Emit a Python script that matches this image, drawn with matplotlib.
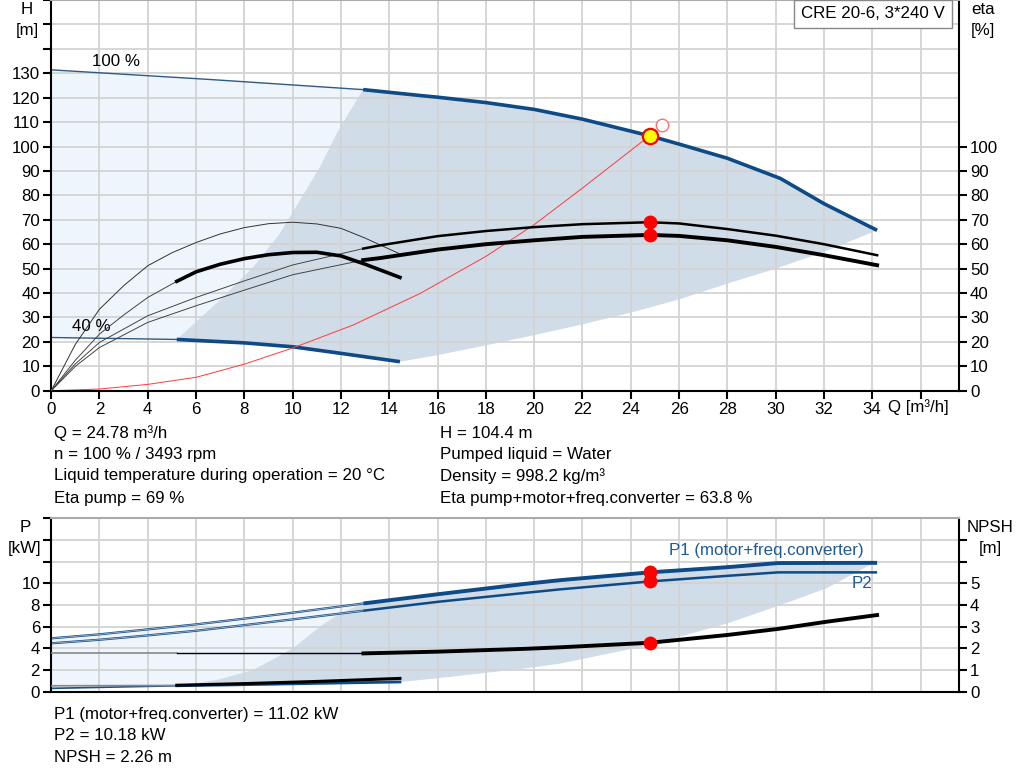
import numpy as np
import matplotlib
matplotlib.use("Agg")
import matplotlib.pyplot as plt
import matplotlib.transforms as mtransforms

plt.rcParams['font.family'] = ['Liberation Sans', 'DejaVu Sans']
FS = 12.2
plt.rcParams['font.size'] = FS

# ---- head curves (Q in m3/h, H in m)
q100_thin = [0, 6.5, 12.92]
h100_thin = [131.4, 127.5, 123.3]
q100 = [12.92, 15.27, 16, 17, 18, 20, 22, 24.78, 26, 28, 30.2, 32, 34.2]
h100 = [123.3, 120.9, 120.2, 119.1, 118.0, 115.2, 111.2, 104.4, 101.0, 95.2, 86.9, 76.6, 65.7]
q40_thin = [0, 5.2]
h40_thin = [21.8, 21.0]
q40 = [5.2, 8, 10, 12, 14.44]
h40 = [21.0, 19.6, 18.0, 15.3, 11.9]
# operating area limits
qmin = [14.44, 16, 18, 20, 22, 24, 26, 28, 30, 32, 34.2]
hmin = [11.9, 14.6, 18.6, 22.8, 27.2, 32.0, 37.4, 43.9, 50, 56.9, 65.7]
qleft = [5.2, 6.99, 8.37, 9.47, 10.3, 11.13, 11.82, 12.65, 12.92]
hleft = [21.0, 37.1, 50.7, 64.4, 78.0, 91.6, 105.3, 119.0, 123.3]
# system curve
qsys = [0, 2, 4, 6, 8, 10, 12.5, 15.27, 18, 20, 22, 24.78]
hsys = [0, 0.7, 2.6, 5.5, 10.9, 17.5, 26.9, 39.8, 55, 68, 83, 104.4]

# ---- efficiency curves (%)
qeta_thin = [0, 1, 2, 4, 6, 8, 10, 12.92]
etap100_thin = [0, 11, 19.8, 30.7, 38.2, 45, 51.5, 58.2]
etat100_thin = [0, 10, 17.7, 28, 34.8, 41.2, 47.5, 53.5]
qeta = [12.92, 13.6, 16, 18, 20, 22, 24.78, 26, 28, 30, 32, 34.2]
etap100 = [58.2, 59.5, 63.3, 65.4, 67, 68.2, 69, 68.5, 66.2, 63.5, 60.0, 55.5]
etat100 = [53.5, 54.3, 57.8, 60, 61.6, 63, 63.8, 63.4, 61.6, 58.9, 55.5, 51.4]
qetap40 = [0, 1, 2, 3, 4, 5, 6, 7, 8, 9, 10, 11, 12, 13, 14.4]
etap40 = [0, 19, 33.4, 43, 51.2, 56.5, 60.7, 64.2, 66.8, 68.4, 69, 68.3, 66.5, 62.5, 56.2]
qetat40_thin = [0, 1, 2, 3, 4, 5.2]
etat40_thin = [0, 12.5, 23.2, 31, 38.2, 44.8]
qetat40 = [5.2, 6, 7, 8, 9, 10, 11, 12, 13, 14.44]
etat40 = [44.8, 48.7, 51.8, 54.1, 55.7, 56.6, 56.7, 55.2, 51.8, 46.4]

# duty point
q_duty = 24.78
h_duty = 104.4
eta_pump = 69
eta_total = 63.8
q_req, h_req = 25.3, 108.7

# ---- power curves (kW) and NPSH (m)
qp_thin = [0, 2, 4, 6, 8, 10, 12.93]
p1_thin = [4.93, 5.3, 5.76, 6.22, 6.75, 7.3, 8.15]
p2_thin = [4.47, 4.8, 5.2, 5.63, 6.15, 6.68, 7.48]
qp = [12.93, 16, 19.6, 21.07, 24.78, 28, 30.1, 34.2]
p1 = [8.15, 9.0, 9.95, 10.3, 11.02, 11.5, 11.88, 11.9]
p2 = [7.48, 8.3, 9.12, 9.45, 10.18, 10.7, 11.02, 11.02]
qp40_thin = [0, 5.2]
p40_thin = [0.31, 0.55]
qp40 = [5.2, 8, 11, 14.44]
p40 = [0.55, 0.65, 0.77, 0.9]
qpmin = [14.44, 16, 18, 19.6, 21.07, 24.78, 28, 30, 32.1, 33.9, 34.2]
ppmin = [0.9, 1.25, 1.75, 2.15, 2.6, 4.31, 6.31, 7.85, 9.55, 11.7, 11.9]
qpleft = [5.2, 6.85, 8.37, 10.0, 11.13, 11.96, 12.93]
ppleft = [0.55, 1.08, 2.0, 4.0, 6.0, 7.24, 8.15]
qn_grey = [0, 5.2]
qn_thin = [5.2, 12.93]
npsh_thin = [1.77, 1.77]
qn = [12.93, 16, 19.6, 21.07, 24.78, 28, 30.1, 32.1, 34.2]
npsh = [1.77, 1.85, 1.98, 2.05, 2.26, 2.62, 2.9, 3.23, 3.54]
qn40_thin = [0, 5.2]
npsh40_thin = [0.275, 0.29]
qn40 = [5.2, 8, 11, 14.44]
npsh40 = [0.3, 0.375, 0.475, 0.615]
p1_duty, p2_duty, npsh_duty = 11.02, 10.18, 2.26

BLUE = '#0d4a86'
LIGHT = '#eef5fc'
DARK = '#d0dce8'
GRID = '#d3d3d3'

fig = plt.figure(figsize=(10.24, 7.81), dpi=100)
xmax = 37.59


def style(ax):
    ax.set_xlim(0, xmax)
    ax.grid(True, color=GRID, lw=1.3)
    for s in ['left', 'bottom', 'right']:
        ax.spines[s].set_linewidth(1.5)
    ax.spines['top'].set_color('#aaaaaa')
    ax.spines['top'].set_linewidth(1.5)
    ax.tick_params(length=6, width=1.5, pad=2, labelsize=FS)


# ================= top chart
ax = fig.add_axes([0.05, 0.4997, 0.8865, 0.5003])
style(ax)
ax.set_ylim(0, 160)
ax.set_yticks(np.arange(0, 161, 10))
ax.set_yticklabels([str(v) if v <= 130 else '' for v in range(0, 161, 10)])
ax.set_xticks(np.arange(0, 37, 2))
ax.set_xticklabels([str(v) if v <= 34 else '' for v in range(0, 37, 2)])
ax.yaxis.get_major_ticks()[-1].tick1line.set_visible(False)
ax.yaxis.get_major_ticks()[-2].tick1line.set_visible(False)

env_q = q100_thin + q100[1:] + qmin[::-1][1:] + q40[::-1][1:] + q40_thin[::-1][1:]
env_h = h100_thin + h100[1:] + hmin[::-1][1:] + h40[::-1][1:] + h40_thin[::-1][1:]
ax.fill(env_q, env_h, color=LIGHT, lw=0, zorder=0.5)
op_q = q100 + qmin[::-1][1:] + q40[::-1][1:] + qleft[1:]
op_h = h100 + hmin[::-1][1:] + h40[::-1][1:] + hleft[1:]
ax.fill(op_q, op_h, color=DARK, lw=0, zorder=0.6)

ax.plot(q100_thin, h100_thin, color='#2f5a85', lw=1.0)
ax.plot(q100, h100, color=BLUE, lw=2.6, solid_capstyle='butt')
ax.plot(q40_thin, h40_thin, color='#2f5a85', lw=1.0)
ax.plot(q40, h40, color=BLUE, lw=2.6, solid_capstyle='butt')
ax.plot(qsys, hsys, color='#ff3b3b', lw=0.7)

ax2 = ax.twinx()
ax2.set_ylim(0, 160)
ax2.set_yticks(np.arange(0, 101, 10))
ax2.tick_params(length=6, width=1.5, pad=2, labelsize=FS)
for s in ax2.spines.values():
    s.set_visible(False)
ax2.plot(qeta_thin, etap100_thin, color='#444444', lw=0.7)
ax2.plot(qeta_thin, etat100_thin, color='#444444', lw=0.7)
ax2.plot(qetap40, etap40, color='#333333', lw=0.7)
ax2.plot(qetat40_thin, etat40_thin, color='#444444', lw=0.7)
ax2.plot(qeta, etap100, color='black', lw=1.8)
ax2.plot(qeta, etat100, color='black', lw=2.8)
ax2.plot(qetat40, etat40, color='black', lw=2.6)
ax2.plot([q_duty], [eta_pump], 'o', color='red', ms=9, zorder=5)
ax2.plot([q_duty], [eta_total], 'o', color='red', ms=9, zorder=5)
ax2.plot([q_req], [h_req], 'o', mfc='white', mec='#ff7070', ms=9, mew=1.0, zorder=5)
ax2.plot([q_duty], [h_duty], 'o', mfc='#ffff00', mec='red', ms=11, mew=1.6, zorder=6)

ax.text(1.69, 134.8, '100 %', va='center', ha='left', fontsize=FS)
ax.text(0.86, 26.5, '40 %', va='center', ha='left', fontsize=FS)
trans = mtransforms.blended_transform_factory(ax.transData, ax.transAxes)
ax.text(34.65, -0.042, 'Q [m³/h]', transform=trans, va='center', ha='left', fontsize=FS)

fig.text(27 / 1024, 1 - 10 / 781, 'H', ha='center', va='center', fontsize=FS)
fig.text(27 / 1024, 1 - 30 / 781, '[m]', ha='center', va='center', fontsize=FS)
fig.text(983 / 1024, 1 - 10 / 781, 'eta', ha='center', va='center', fontsize=FS)
fig.text(983 / 1024, 1 - 31 / 781, '[%]', ha='center', va='center', fontsize=FS)
fig.text(873 / 1024, 1 - 14 / 781, 'CRE 20-6, 3*240 V', ha='center', va='center', fontsize=FS,
         bbox=dict(boxstyle='square,pad=0.4', fc='white', ec='#888888', lw=1.0))

col1 = ['Q = 24.78 m³/h', 'n = 100 % / 3493 rpm',
        'Liquid temperature during operation = 20 °C', 'Eta pump = 69 %']
col2 = ['H = 104.4 m', 'Pumped liquid = Water', 'Density = 998.2 kg/m³',
        'Eta pump+motor+freq.converter = 63.8 %']
rows = [433, 455, 476, 498]
for t, y in zip(col1, rows):
    fig.text(54 / 1024, 1 - y / 781, t, ha='left', va='center', fontsize=FS)
for t, y in zip(col2, rows):
    fig.text(440 / 1024, 1 - y / 781, t, ha='left', va='center', fontsize=FS)

# ================= bottom chart
bx = fig.add_axes([0.05, 0.1143, 0.8865, 0.2219])
style(bx)
bx.set_ylim(0, 16)
bx.set_yticks(np.arange(0, 17, 2))
bx.set_yticklabels([str(v) if v <= 10 else '' for v in range(0, 17, 2)])
bx.yaxis.get_major_ticks()[-1].tick1line.set_visible(False)
bx.set_xticks(np.arange(0, 37, 2))
bx.tick_params(axis='x', length=0, labelbottom=False)

env_q = qp_thin + qp[1:] + qpmin[::-1][1:] + qp40[::-1][1:] + qp40_thin[::-1][1:]
env_p = p1_thin + p1[1:] + ppmin[::-1][1:] + p40[::-1][1:] + p40_thin[::-1][1:]
bx.fill(env_q, env_p, color=LIGHT, lw=0, zorder=0.5)
op_q = qp + qpmin[::-1][1:] + qp40[::-1][1:] + qpleft[1:]
op_p = p1 + ppmin[::-1][1:] + p40[::-1][1:] + ppleft[1:]
bx.fill(op_q, op_p, color=DARK, lw=0, zorder=0.6)

for yy in (p1_thin, p2_thin):
    bx.plot(qp_thin, yy, color='#1a4f8a', lw=1.6)
    bx.plot(qp_thin, yy, color='#b4c2d0', lw=0.5)
bx.plot(qp, p1, color=BLUE, lw=2.8, solid_capstyle='butt')
bx.plot(qp, p2, color=BLUE, lw=1.8, solid_capstyle='butt')
bx.plot(qp40_thin, p40_thin, color='#1a4f8a', lw=1.2)
bx.plot(qp40, p40, color=BLUE, lw=2.0)

bx2 = bx.twinx()
bx2.set_ylim(0, 8)
bx2.set_yticks(np.arange(0, 8, 1))
bx2.set_yticklabels([str(v) if v <= 5 else '' for v in range(0, 8)])
bx2.tick_params(length=6, width=1.5, pad=2, labelsize=FS)
for s in bx2.spines.values():
    s.set_visible(False)
bx2.plot(qn_grey, npsh_thin, color='#888888', lw=1.2)
bx2.plot(qn_thin, npsh_thin, color='black', lw=1.0)
bx2.plot(qn, npsh, color='black', lw=2.8)
bx2.plot(qn40_thin, npsh40_thin, color='#888888', lw=1.2)
bx2.plot(qn40, npsh40, color='black', lw=2.2)
bx.plot([q_duty], [p1_duty], 'o', color='red', ms=9, zorder=5)
bx.plot([q_duty], [p2_duty], 'o', color='red', ms=9, zorder=5)
bx2.plot([q_duty], [npsh_duty], 'o', color='red', ms=9, zorder=5)

bx.text(25.6, 13.0, 'P1 (motor+freq.converter)', color='#1f5a94', va='center', ha='left', fontsize=FS)
bx.text(33.15, 10.0, 'P2', color='#1f5a94', va='center', ha='left', fontsize=FS)

fig.text(25 / 1024, 1 - 527 / 781, 'P', ha='center', va='center', fontsize=FS)
fig.text(25 / 1024, 1 - 548 / 781, '[kW]', ha='center', va='center', fontsize=FS)
fig.text(990 / 1024, 1 - 527 / 781, 'NPSH', ha='center', va='center', fontsize=FS)
fig.text(990 / 1024, 1 - 548 / 781, '[m]', ha='center', va='center', fontsize=FS)

col3 = ['P1 (motor+freq.converter) = 11.02 kW', 'P2 = 10.18 kW', 'NPSH = 2.26 m']
for t, y in zip(col3, [714, 735, 757]):
    fig.text(54 / 1024, 1 - y / 781, t, ha='left', va='center', fontsize=FS)

fig.savefig('out.png', dpi=100)
